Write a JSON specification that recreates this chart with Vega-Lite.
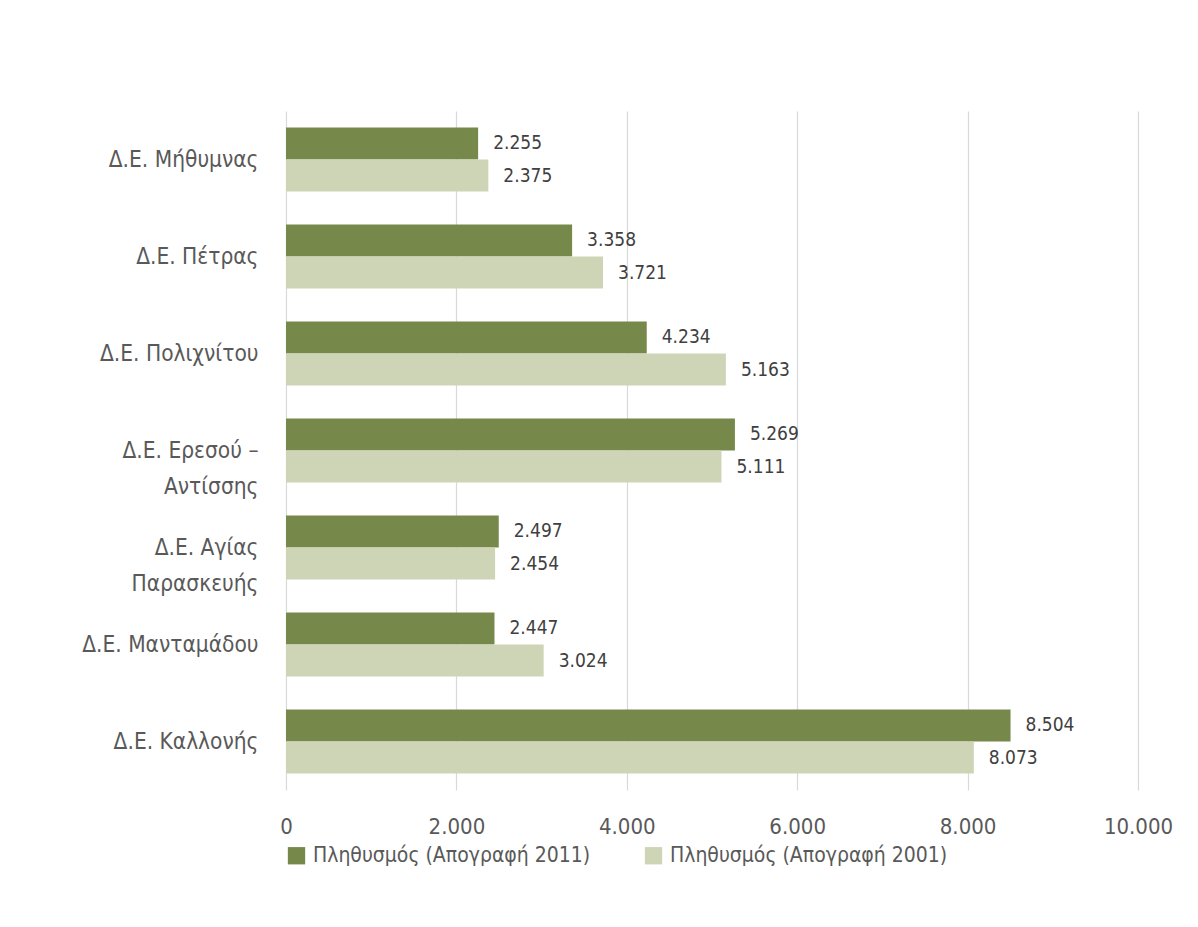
{
  "$schema": "https://vega.github.io/schema/vega-lite/v6.json",
  "width": 852,
  "height": 679,
  "autosize": {"type": "none"},
  "padding": {"left": 286, "top": 111, "right": 60, "bottom": 137},
  "background": "white",
  "config": {
    "locale": {"number": {"decimal": ",", "thousands": ".", "grouping": [3], "currency": ["", " €"]}},
    "font": "Liberation Sans Narrow, DejaVu Sans Condensed, sans-serif",
    "view": {"stroke": null}
  },
  "data": {
    "values": [
      {"area": "Δ.Ε. Μήθυμνας", "series": "Πληθυσμός (Απογραφή 2011)", "value": 2255},
      {"area": "Δ.Ε. Μήθυμνας", "series": "Πληθυσμός (Απογραφή 2001)", "value": 2375},
      {"area": "Δ.Ε. Πέτρας", "series": "Πληθυσμός (Απογραφή 2011)", "value": 3358},
      {"area": "Δ.Ε. Πέτρας", "series": "Πληθυσμός (Απογραφή 2001)", "value": 3721},
      {"area": "Δ.Ε. Πολιχνίτου", "series": "Πληθυσμός (Απογραφή 2011)", "value": 4234},
      {"area": "Δ.Ε. Πολιχνίτου", "series": "Πληθυσμός (Απογραφή 2001)", "value": 5163},
      {"area": "Δ.Ε. Ερεσού – Αντίσσης", "series": "Πληθυσμός (Απογραφή 2011)", "value": 5269},
      {"area": "Δ.Ε. Ερεσού – Αντίσσης", "series": "Πληθυσμός (Απογραφή 2001)", "value": 5111},
      {"area": "Δ.Ε. Αγίας Παρασκευής", "series": "Πληθυσμός (Απογραφή 2011)", "value": 2497},
      {"area": "Δ.Ε. Αγίας Παρασκευής", "series": "Πληθυσμός (Απογραφή 2001)", "value": 2454},
      {"area": "Δ.Ε. Μανταμάδου", "series": "Πληθυσμός (Απογραφή 2011)", "value": 2447},
      {"area": "Δ.Ε. Μανταμάδου", "series": "Πληθυσμός (Απογραφή 2001)", "value": 3024},
      {"area": "Δ.Ε. Καλλονής", "series": "Πληθυσμός (Απογραφή 2011)", "value": 8504},
      {"area": "Δ.Ε. Καλλονής", "series": "Πληθυσμός (Απογραφή 2001)", "value": 8073}
    ]
  },
  "encoding": {
    "y": {
      "field": "area", "type": "nominal", "sort": null,
      "scale": {"paddingInner": 0.34, "paddingOuter": 0.17},
      "axis": {
        "title": null, "domain": false, "ticks": false,
        "labelFontSize": 22.5, "labelColor": "#595959", "labelPadding": 28,
        "labelLineHeight": 36, "labelLimit": 400,
        "labelExpr": "datum.label == 'Δ.Ε. Ερεσού – Αντίσσης' ? ['Δ.Ε. Ερεσού –', 'Αντίσσης'] : datum.label == 'Δ.Ε. Αγίας Παρασκευής' ? ['Δ.Ε. Αγίας', 'Παρασκευής'] : datum.label"
      }
    },
    "yOffset": {
      "field": "series", "type": "nominal",
      "sort": ["Πληθυσμός (Απογραφή 2011)", "Πληθυσμός (Απογραφή 2001)"]
    },
    "x": {
      "field": "value", "type": "quantitative",
      "scale": {"domain": [0, 10000], "nice": false},
      "axis": {
        "title": null, "domain": false, "ticks": false,
        "values": [0, 2000, 4000, 6000, 8000, 10000],
        "format": ",d", "labelFontSize": 22, "labelColor": "#595959",
        "labelOverlap": false, "labelFlush": false, "labelBound": false,
        "labelPadding": 26, "grid": true, "gridColor": "#d9d9d9", "gridWidth": 1.2
      }
    }
  },
  "layer": [
    {
      "mark": {"type": "bar"},
      "encoding": {
        "color": {
          "field": "series", "type": "nominal",
          "sort": ["Πληθυσμός (Απογραφή 2011)", "Πληθυσμός (Απογραφή 2001)"],
          "scale": {"range": ["#76894a", "#cdd5b6"]},
          "legend": {
            "title": null, "orient": "bottom", "direction": "horizontal",
            "symbolType": "square", "symbolSize": 300, "symbolStrokeWidth": 0,
            "labelFontSize": 21, "labelColor": "#595959", "offset": 8,
            "columnPadding": 52, "labelOffset": 6, "labelLimit": 500
          }
        }
      }
    },
    {
      "mark": {"type": "text", "align": "left", "dx": 15, "fontSize": 19, "color": "#404040"},
      "encoding": {
        "text": {"field": "value", "type": "quantitative", "format": ",d"}
      }
    }
  ]
}
